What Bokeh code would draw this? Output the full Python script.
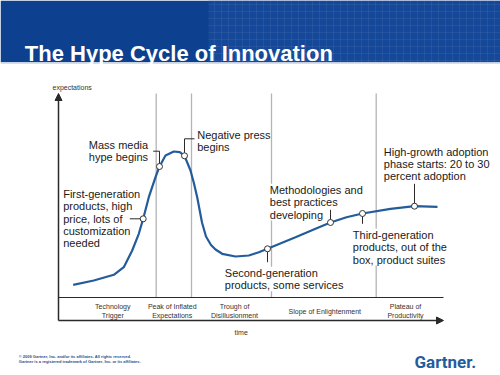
from bokeh.plotting import figure
from bokeh.models import Range1d, BoxAnnotation, Label, Arrow, NormalHead
from bokeh.embed import file_html
from bokeh.resources import INLINE

# ---- data (time units along the x axis, expectation units above the phase band) ----
curve_time = [14.7, 35.3, 55.3, 65.3, 73.7, 80.3, 84.7, 90.3, 97.0, 101.0, 107.0, 115.3,
              121.3, 126.0, 132.0, 135.5, 138.7, 143.5, 147.5, 152.5, 157.0, 163.7, 177.0,
              190.3, 200.3, 209.0, 223.0, 237.0, 257.0, 272.0, 288.0, 304.0, 332.0, 356.0, 379.0]
curve_expectation = [12.7, 17.0, 22.7, 30.3, 47.0, 63.7, 78.7, 100.3, 120.3, 131.0, 142.0, 146.0,
                     145.3, 141.7, 127.0, 114.0, 100.3, 75.0, 61.0, 52.5, 48.0, 43.7, 41.0,
                     42.0, 45.3, 48.7, 54.5, 60.3, 68.7, 75.0, 80.3, 84.0, 88.7, 91.3, 90.7]

event_time = [84.7, 101.0, 126.0, 209.0, 272.0, 304.0, 356.0]
event_expectation = [78.7, 131.0, 141.7, 48.7, 75.0, 84.0, 91.3]
event_text = [
    "First-generation\nproducts, high\nprice, lots of\ncustomization\nneeded",
    "Mass media\nhype begins",
    "Negative press\nbegins",
    "Second-generation\nproducts, some services",
    "Methodologies and\nbest practices\ndeveloping",
    "Third-generation\nproducts, out of the\nbox, product suites",
    "High-growth adoption\nphase starts: 20 to 30\npercent adoption",
]
event_label_time = [4.7, 30.3, 138.7, 166.3, 211.3, 294.3, 325.3]
event_label_top = [109.7, 158.7, 168.7, 30.7, 113.7, 68.7, 152.0]
event_label_bg = [False, False, False, True, True, True, False]
leader_time = [[71.3, 84.7], [94.7, 101.0, 101.0], [126.0, 126.0, 136.0], [209.0, 209.0],
               [272.0, 272.0], [304.0, 304.0], [356.0, 356.0]]
leader_expectation = [[78.7, 78.7], [146.3, 146.3, 131.0], [141.7, 158.7, 158.7], [48.7, 35.3],
                      [87.7, 75.0], [84.0, 73.7], [113.7, 91.3]]

phase_bounds = [97.7, 133.0, 213.0, 317.7]
phase_names = ["Technology\nTrigger", "Peak of Inflated\nExpectations", "Trough of\nDisillusionment",
               "Slope of Enlightenment", "Plateau of\nProductivity"]
phase_centers = [54.3, 113.7, 176.0, 266.3, 347.0]

time_max = 385.0
expect_max = 204.0
band_floor = -23.0

title = "The Hype Cycle of Innovation"
y_label = "expectations"
x_label = "time"
footer_lines = ["\u00a9 2009 Gartner, Inc. and/or its affiliates. All rights reserved.",
                "Gartner is a registered trademark of Gartner, Inc. or its affiliates."]
logo = "Gartner."

FONT = "Liberation Sans"
BLUE = "#235C9B"
DARK = "#2a2a2a"

p = figure(width=500, height=375, output_backend="svg", toolbar_location=None,
           x_range=Range1d(-58, 442), y_range=Range1d(-78, 297),
           min_border=0, outline_line_color=None, background_fill_color="white")
p.axis.visible = False
p.grid.visible = False

# title bar
p.add_layout(BoxAnnotation(bottom=235.3, fill_color="#0E4090", fill_alpha=1, line_color=None))
p.add_layout(BoxAnnotation(bottom=235.3, left=150, fill_color="#1B4E9E", fill_alpha=0.6,
                           line_color=None, hatch_pattern="+", hatch_color="white",
                           hatch_alpha=0.10, hatch_scale=7, hatch_weight=0.6))
p.add_layout(BoxAnnotation(bottom=233.8, top=235.3, fill_color="#C8D3E3", fill_alpha=1, line_color=None))
p.add_layout(Label(x=-33.7, y=244.5, text=title, text_font=FONT, text_font_style="bold",
                   text_font_size="22px", text_color="white", text_baseline="alphabetic"))

# phase separators
p.segment(x0=phase_bounds, y0=[0] * 4, x1=phase_bounds, y1=[expect_max] * 4,
          line_color="#B4B4B4", line_width=1.3)

# band line and axes
p.segment(x0=[0], y0=[0], x1=[time_max], y1=[0], line_color=DARK, line_width=1.2)
p.add_layout(Arrow(end=NormalHead(size=7, fill_color=DARK, line_color=DARK),
                   x_start=0, y_start=band_floor, x_end=0, y_end=expect_max,
                   line_color=DARK, line_width=1.5))
p.add_layout(Arrow(end=NormalHead(size=7, fill_color=DARK, line_color=DARK),
                   x_start=0, y_start=band_floor, x_end=time_max, y_end=band_floor,
                   line_color=DARK, line_width=1.5))

# phase names
for name, cx in zip(phase_names, phase_centers):
    p.add_layout(Label(x=cx, y=-13.5, text=name, text_font=FONT, text_font_size="7px",
                       text_color="#333333", text_align="center", text_baseline="middle",
                       text_line_height=1.2))

# axis titles
p.add_layout(Label(x=-6, y=210.3, text=y_label, text_font=FONT, text_font_size="7px",
                   text_color="#333333", text_baseline="alphabetic"))
p.add_layout(Label(x=182.7, y=-34.7, text=x_label, text_font=FONT, text_font_size="7px",
                   text_color="#333333", text_align="center", text_baseline="alphabetic"))

# event labels
for txt, lx, ly, bg in zip(event_text, event_label_time, event_label_top, event_label_bg):
    kw = dict(background_fill_color="white", background_fill_alpha=1) if bg else {}
    p.add_layout(Label(x=lx, y=ly, text=txt, text_font=FONT, text_font_size="11px",
                       text_color="#1a1a1a", text_baseline="top", text_line_height=1.03, **kw))

# curve, leaders, markers (drawn above the label backgrounds)
p.line(curve_time, curve_expectation, line_color=BLUE, line_width=2.2, level="overlay")
p.multi_line(leader_time, leader_expectation, line_color=DARK, line_width=1, level="overlay")
p.scatter(event_time, event_expectation, size=6, fill_color="white", line_color="#333333",
          line_width=1, level="overlay")

# footer
p.add_layout(Label(x=-39.7, y=-58.7, text=footer_lines[0], text_font=FONT, text_font_style="bold",
                   text_font_size="4px", text_color="#27508E", text_baseline="alphabetic"))
p.add_layout(Label(x=-39.7, y=-63.7, text=footer_lines[1], text_font=FONT, text_font_style="bold",
                   text_font_size="4px", text_color="#27508E", text_baseline="alphabetic"))
p.add_layout(Label(x=356, y=-64, text=logo, text_font="Roboto", text_font_style="bold",
                   text_font_size="17px", text_color="#1F5E9E", text_baseline="alphabetic"))

open("out.html", "w").write(file_html(p, INLINE))
